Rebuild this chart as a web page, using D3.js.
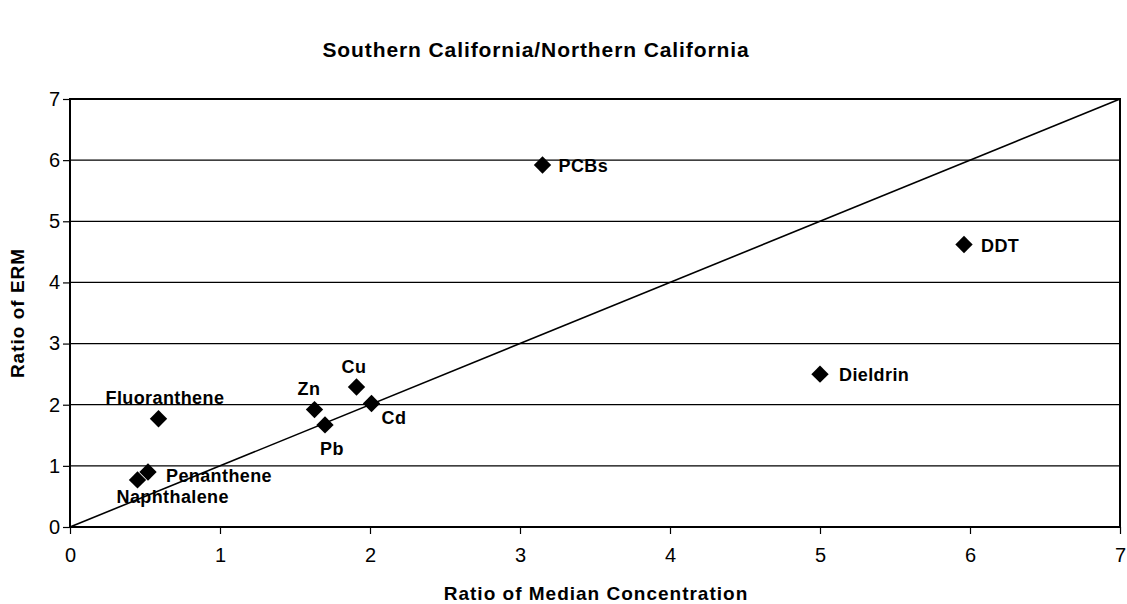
<!DOCTYPE html>
<html>
<head>
<meta charset="utf-8">
<script src="https://cdn.jsdelivr.net/npm/d3@7"></script>
<style>
  body { margin: 0; background: #fff; }
  svg { font-family: "Liberation Sans", Arial, sans-serif; }
</style>
</head>
<body>
<div id="chart"></div>
<script>
// compounds, ratio of median concentration (x), ratio of ERM (y)
var compounds = ["PCBs", "DDT", "Dieldrin", "Fluoranthene", "Zn", "Cu", "Cd", "Pb", "Penanthene", "Naphthalene"]
var medianRatio = [3.15, 5.96, 5.0, 0.59, 1.63, 1.91, 2.01, 1.70, 0.52, 0.45]
var ermRatio = [5.92, 4.62, 2.5, 1.77, 1.92, 2.29, 2.02, 1.67, 0.90, 0.77]
var xTicks = [0, 1, 2, 3, 4, 5, 6, 7]
var yTicks = [0, 1, 2, 3, 4, 5, 6, 7]
var oneToOne = [0, 7]

// label placement next to the marker (pixels)
var labelOffset = {
  "PCBs": [16, 7], "DDT": [17, 7], "Dieldrin": [19, 7],
  "Fluoranthene": [-53, -15], "Zn": [-17, -15], "Cu": [-15, -14],
  "Cd": [10, 21], "Pb": [-5, 30], "Penanthene": [18, 10], "Naphthalene": [-21, 23]
}

var width = 1127
var height = 604
var margin = {top: 99, right: 7, bottom: 77, left: 70}

var data = compounds.map(function(d, i) {
  return {name: d, x: medianRatio[i], y: ermRatio[i]}
})

var svg = d3.select("#chart")
    .append("svg")
    .attr("width", width)
    .attr("height", height)

var xScale = d3.scaleLinear()
    .domain([0, 7])
    .range([margin.left, width - margin.right])

var yScale = d3.scaleLinear()
    .domain([0, 7])
    .range([height - margin.bottom, margin.top])

// title
svg.append("text")
    .attr("x", 536)
    .attr("y", 57)
    .attr("text-anchor", "middle")
    .style("font-size", "21px")
    .style("font-weight", "bold")
    .style("letter-spacing", "0.9px")
    .text("Southern California/Northern California")

// gridlines
svg.append("g")
    .selectAll("line")
    .data(yTicks.slice(1, -1))
    .enter()
    .append("line")
    .attr("x1", xScale(0))
    .attr("x2", xScale(7))
    .attr("y1", function(d) { return yScale(d) })
    .attr("y2", function(d) { return yScale(d) })
    .attr("stroke", "#000")
    .attr("stroke-width", 1.2)

// x-axis
var xAxis = svg.append("g")
    .attr("transform", "translate(0," + yScale(0) + ")")
    .call(d3.axisBottom(xScale).tickValues(xTicks).tickSize(7).tickPadding(14).tickFormat(d3.format("d")))
xAxis.select(".domain").remove()
xAxis.selectAll("line").attr("stroke", "#000").attr("stroke-width", 1.2)
xAxis.selectAll("text")
    .style("font-size", "20px")
    .attr("fill", "#000")
    .attr("font-family", "Liberation Sans, Arial, sans-serif")

// y-axis
var yAxis = svg.append("g")
    .attr("transform", "translate(" + xScale(0) + ",0)")
    .call(d3.axisLeft(yScale).tickValues(yTicks).tickSize(7).tickPadding(3).tickFormat(d3.format("d")))
yAxis.select(".domain").remove()
yAxis.selectAll("line").attr("stroke", "#000").attr("stroke-width", 1.2)
yAxis.selectAll("text")
    .style("font-size", "20px")
    .attr("fill", "#000")
    .attr("font-family", "Liberation Sans, Arial, sans-serif")

// plot border
svg.append("rect")
    .attr("x", xScale(0))
    .attr("y", yScale(7))
    .attr("width", xScale(7) - xScale(0))
    .attr("height", yScale(0) - yScale(7))
    .attr("fill", "none")
    .attr("stroke", "#000")
    .attr("stroke-width", 2)

// 1:1 line
svg.append("line")
    .attr("x1", xScale(oneToOne[0]))
    .attr("y1", yScale(oneToOne[0]))
    .attr("x2", xScale(oneToOne[1]))
    .attr("y2", yScale(oneToOne[1]))
    .attr("stroke", "#000")
    .attr("stroke-width", 1.6)

// markers
var diamond = d3.symbol().type(d3.symbolSquare).size(150)
svg.append("g")
    .selectAll("path")
    .data(data)
    .enter()
    .append("path")
    .attr("d", diamond)
    .attr("transform", function(d) {
      return "translate(" + xScale(d.x) + "," + yScale(d.y) + ") rotate(45)"
    })
    .attr("fill", "#000")

// point labels
svg.append("g")
    .selectAll("text")
    .data(data)
    .enter()
    .append("text")
    .attr("x", function(d) { return xScale(d.x) + labelOffset[d.name][0] })
    .attr("y", function(d) { return yScale(d.y) + labelOffset[d.name][1] })
    .style("font-size", "18px")
    .style("font-weight", "bold")
    .style("letter-spacing", "0.4px")
    .text(function(d) { return d.name })

// axis titles
svg.append("text")
    .attr("x", 596)
    .attr("y", 600)
    .attr("text-anchor", "middle")
    .style("font-size", "19px")
    .style("font-weight", "bold")
    .style("letter-spacing", "1px")
    .text("Ratio of Median Concentration")

svg.append("text")
    .attr("transform", "translate(24,313) rotate(-90)")
    .attr("text-anchor", "middle")
    .style("font-size", "19px")
    .style("font-weight", "bold")
    .style("letter-spacing", "1px")
    .text("Ratio of ERM")
</script>
</body>
</html>
